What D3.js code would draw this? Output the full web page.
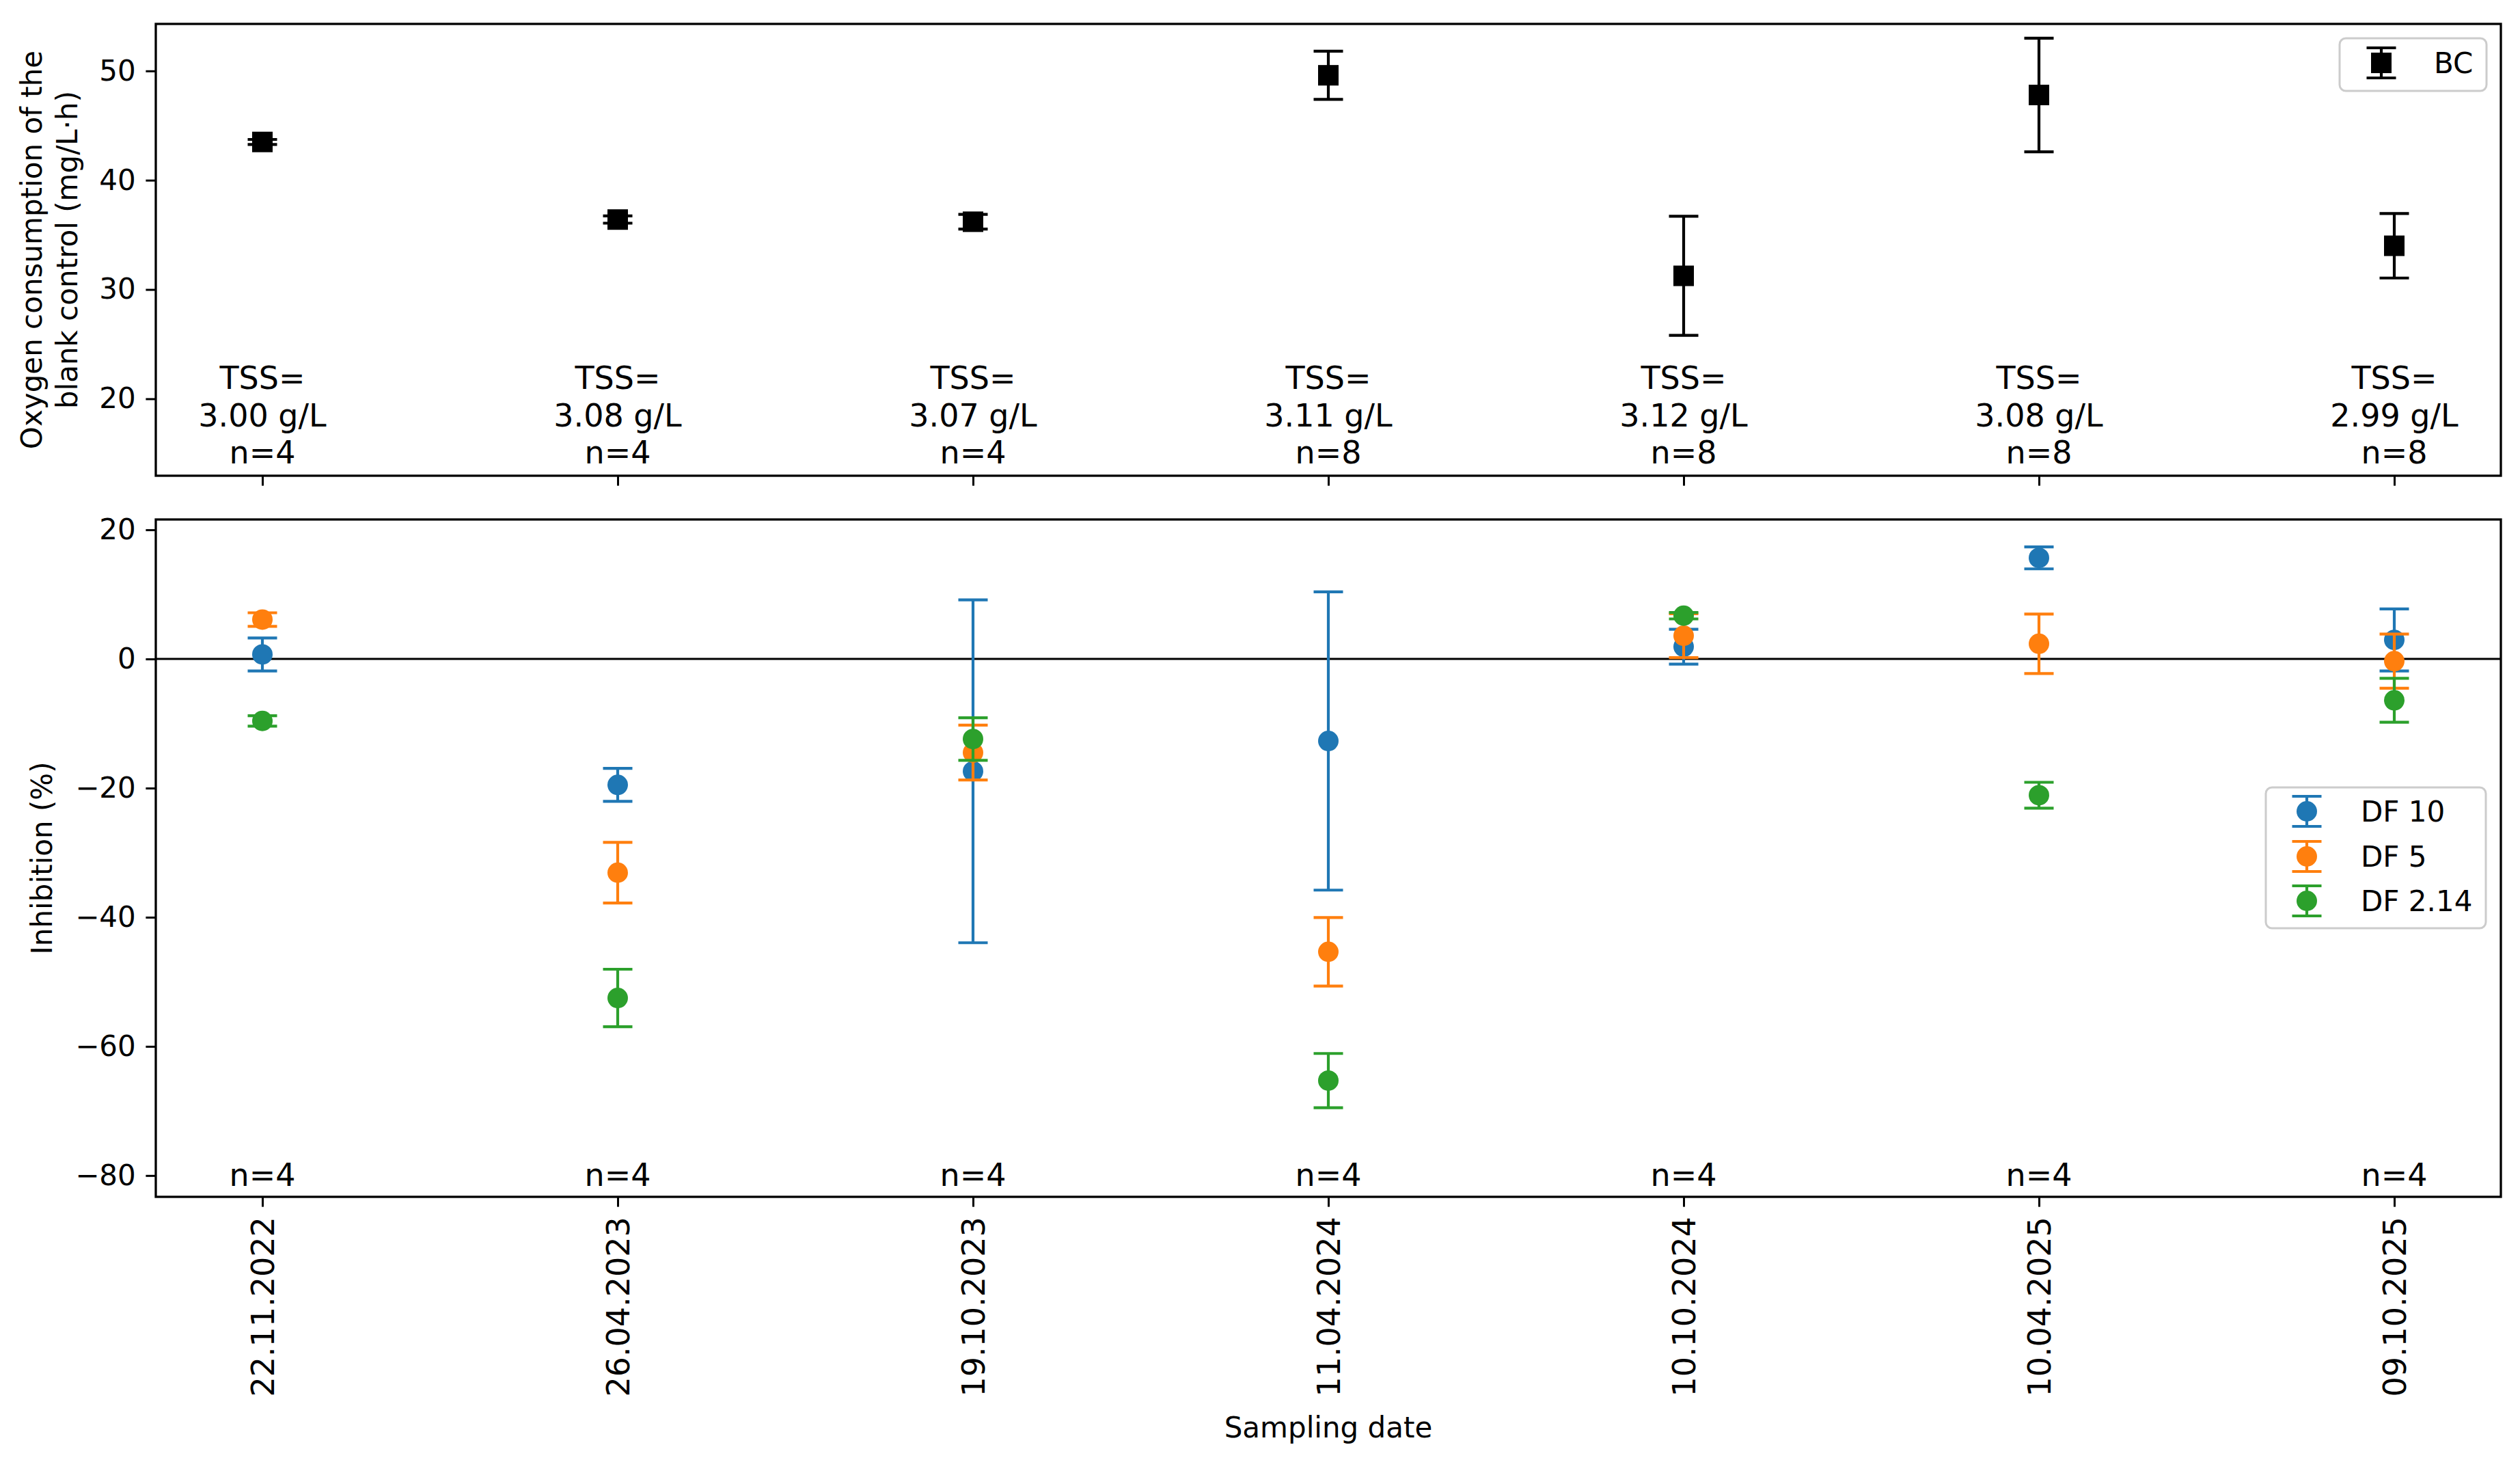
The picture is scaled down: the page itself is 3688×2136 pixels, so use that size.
<!DOCTYPE html>
<html>
<head>
<meta charset="utf-8">
<script src="https://cdn.jsdelivr.net/npm/d3@7"></script>
<style>
  html, body { margin: 0; padding: 0; background: #fff; }
  svg { display: block; font-family: "DejaVu Sans", sans-serif; }
</style>
</head>
<body>
<svg id="chart" width="3688" height="2136"></svg>
<script>
// ---------------- data ----------------
const dates = ["22.11.2022", "26.04.2023", "19.10.2023", "11.04.2024", "10.10.2024", "10.04.2025", "09.10.2025"];
const tssValues = ["3.00", "3.08", "3.07", "3.11", "3.12", "3.08", "2.99"];
const nTop = [4, 4, 4, 8, 8, 8, 8];
const nBottom = [4, 4, 4, 4, 4, 4, 4];

const bcMean = [43.5, 36.4, 36.2, 49.6, 31.25, 47.8, 34.0];
const bcErr  = [0.23, 0.33, 0.67, 2.2, 5.45, 5.2, 2.95];

const df10Mean = [0.7, -19.5, -17.4, -12.7, 1.9, 15.65, 2.95];
const df10Err  = [2.55, 2.55, 26.55, 23.1, 2.7, 1.7, 4.8];
const df5Mean  = [6.1, -33.1, -14.5, -45.35, 3.6, 2.35, -0.34];
const df5Err   = [1.05, 4.7, 4.25, 5.3, 3.4, 4.6, 4.2];
const df214Mean = [-9.6, -52.5, -12.4, -65.3, 6.7, -21.1, -6.4];
const df214Err  = [0.8, 4.45, 3.3, 4.2, 0.5, 2.0, 3.4];

const seriesNames = ["DF 10", "DF 5", "DF 2.14"];
const seriesColors = ["#1f77b4", "#ff7f0e", "#2ca02c"];

const topTicks = [20, 30, 40, 50];
const bottomTicks = [-80, -60, -40, -20, 0, 20];

// ---------------- layout ----------------
const L = 228, R = 3660;
const topPanel = { t: 35, b: 696 };
const botPanel = { t: 760, b: 1751 };
const tickLen = 14.6, tickPad = 14.6;
const tickFont = 42, xTickFont = 46, annFont = 46, labelFont = 42, legendFont = 42;
const capHalf = 21.5, errW = 4.2, markerR = 15, sq = 30;

const svg = d3.select("#chart");
svg.append("rect").attr("width", 3688).attr("height", 2136).attr("fill", "#fff");

const idx = d3.range(dates.length);
const x = d3.scaleLinear().domain([-0.3, 6.3]).range([L, R]);
const yTop = d3.scaleLinear().domain([12.96, 54.3]).range([topPanel.b, topPanel.t]);
const yBot = d3.scaleLinear().domain([-83.3, 21.6]).range([botPanel.b, botPanel.t]);

function styleAxis(g, size) {
  g.select(".domain").remove();
  g.selectAll(".tick line").attr("stroke", "#000").attr("stroke-width", 3);
  g.selectAll(".tick text").attr("font-size", size).attr("fill", "#000")
    .attr("font-family", "DejaVu Sans, sans-serif");
}

// ---------- top panel ----------
const gTopY = svg.append("g").attr("transform", `translate(${L},0)`)
  .call(d3.axisLeft(yTop).tickValues(topTicks).tickSize(tickLen).tickPadding(tickPad).tickFormat(d3.format("d")));
styleAxis(gTopY, tickFont);
const gTopX = svg.append("g").attr("transform", `translate(0,${topPanel.b})`)
  .call(d3.axisBottom(x).tickValues(idx).tickSize(tickLen).tickFormat(""));
styleAxis(gTopX, xTickFont);

// error bars BC
const bc = svg.append("g");
idx.forEach(i => {
  const cx = x(i), y0 = yTop(bcMean[i] - bcErr[i]), y1 = yTop(bcMean[i] + bcErr[i]);
  bc.append("line").attr("x1", cx).attr("x2", cx).attr("y1", y0).attr("y2", y1)
    .attr("stroke", "#000").attr("stroke-width", errW);
  [y0, y1].forEach(yy => bc.append("line").attr("x1", cx - capHalf).attr("x2", cx + capHalf)
    .attr("y1", yy).attr("y2", yy).attr("stroke", "#000").attr("stroke-width", errW));
  bc.append("rect").attr("x", cx - sq / 2).attr("y", yTop(bcMean[i]) - sq / 2)
    .attr("width", sq).attr("height", sq).attr("fill", "#000");
});

// TSS annotations
const ann = svg.append("g").attr("font-size", annFont).attr("text-anchor", "middle").attr("fill", "#000");
idx.forEach(i => {
  ann.append("text").attr("x", x(i)).attr("y", 569).text("TSS=");
  ann.append("text").attr("x", x(i)).attr("y", 624).text(`${tssValues[i]} g/L`);
  ann.append("text").attr("x", x(i)).attr("y", 678).text(`n=${nTop[i]}`);
});

svg.append("rect").attr("x", L).attr("y", topPanel.t).attr("width", R - L).attr("height", topPanel.b - topPanel.t)
  .attr("fill", "none").attr("stroke", "#000").attr("stroke-width", 3.3);

// BC legend
const lg1 = svg.append("g");
lg1.append("rect").attr("x", 3424).attr("y", 56).attr("width", 215).attr("height", 77).attr("rx", 9)
  .attr("fill", "#fff").attr("fill-opacity", 0.8).attr("stroke", "#cccccc").attr("stroke-width", 3);
lg1.append("line").attr("x1", 3485).attr("x2", 3485).attr("y1", 70).attr("y2", 114).attr("stroke", "#000").attr("stroke-width", errW);
[70, 114].forEach(yy => lg1.append("line").attr("x1", 3485 - capHalf).attr("x2", 3485 + capHalf)
  .attr("y1", yy).attr("y2", yy).attr("stroke", "#000").attr("stroke-width", errW));
lg1.append("rect").attr("x", 3485 - sq / 2).attr("y", 92 - sq / 2).attr("width", sq).attr("height", sq).attr("fill", "#000");
lg1.append("text").attr("x", 3562).attr("y", 92).attr("dy", "0.36em").attr("font-size", legendFont).text("BC");

// top y label
const tyl = svg.append("g").attr("font-size", labelFont).attr("text-anchor", "middle");
tyl.append("text").attr("transform", `translate(61,${(topPanel.t + topPanel.b) / 2}) rotate(-90)`).text("Oxygen consumption of the");
tyl.append("text").attr("transform", `translate(113,${(topPanel.t + topPanel.b) / 2}) rotate(-90)`).text("blank control (mg/L·h)");

// ---------- bottom panel ----------
const gBotY = svg.append("g").attr("transform", `translate(${L},0)`)
  .call(d3.axisLeft(yBot).tickValues(bottomTicks).tickSize(tickLen).tickPadding(tickPad).tickFormat(d3.format("d")));
styleAxis(gBotY, tickFont);
const gBotX = svg.append("g").attr("transform", `translate(0,${botPanel.b})`)
  .call(d3.axisBottom(x).tickValues(idx).tickSize(tickLen).tickPadding(tickPad).tickFormat(i => dates[i]));
styleAxis(gBotX, xTickFont);
gBotX.selectAll(".tick text")
  .attr("transform", "rotate(-90)")
  .attr("text-anchor", "end")
  .attr("x", -(tickLen + tickPad))
  .attr("y", 0)
  .attr("dy", "0.36em");

// zero line
svg.append("line").attr("x1", L).attr("x2", R).attr("y1", yBot(0)).attr("y2", yBot(0))
  .attr("stroke", "#000").attr("stroke-width", 3);

const seriesMeans = [df10Mean, df5Mean, df214Mean];
const seriesErrs = [df10Err, df5Err, df214Err];
seriesMeans.forEach((means, s) => {
  const g = svg.append("g");
  const col = seriesColors[s];
  idx.forEach(i => {
    const cx = x(i), y0 = yBot(means[i] - seriesErrs[s][i]), y1 = yBot(means[i] + seriesErrs[s][i]);
    g.append("line").attr("x1", cx).attr("x2", cx).attr("y1", y0).attr("y2", y1)
      .attr("stroke", col).attr("stroke-width", errW);
    [y0, y1].forEach(yy => g.append("line").attr("x1", cx - capHalf).attr("x2", cx + capHalf)
      .attr("y1", yy).attr("y2", yy).attr("stroke", col).attr("stroke-width", errW));
    g.append("circle").attr("cx", cx).attr("cy", yBot(means[i])).attr("r", markerR).attr("fill", col);
  });
});

// n annotations bottom
const ann2 = svg.append("g").attr("font-size", annFont).attr("text-anchor", "middle");
idx.forEach(i => ann2.append("text").attr("x", x(i)).attr("y", 1735).text(`n=${nBottom[i]}`));

svg.append("rect").attr("x", L).attr("y", botPanel.t).attr("width", R - L).attr("height", botPanel.b - botPanel.t)
  .attr("fill", "none").attr("stroke", "#000").attr("stroke-width", 3.3);

// DF legend
const lg2 = svg.append("g");
lg2.append("rect").attr("x", 3316).attr("y", 1152).attr("width", 322).attr("height", 206).attr("rx", 9)
  .attr("fill", "#fff").attr("fill-opacity", 0.8).attr("stroke", "#cccccc").attr("stroke-width", 3);
const rowsY = [1187, 1253, 1318];
seriesNames.forEach((name, s) => {
  const cy = rowsY[s], cx = 3376, col = seriesColors[s];
  lg2.append("line").attr("x1", cx).attr("x2", cx).attr("y1", cy - 22).attr("y2", cy + 22).attr("stroke", col).attr("stroke-width", errW);
  [cy - 22, cy + 22].forEach(yy => lg2.append("line").attr("x1", cx - capHalf).attr("x2", cx + capHalf)
    .attr("y1", yy).attr("y2", yy).attr("stroke", col).attr("stroke-width", errW));
  lg2.append("circle").attr("cx", cx).attr("cy", cy).attr("r", markerR).attr("fill", col);
  lg2.append("text").attr("x", 3455).attr("y", cy).attr("dy", "0.36em").attr("font-size", legendFont).text(name);
});

// bottom y label
svg.append("text").attr("font-size", labelFont).attr("text-anchor", "middle")
  .attr("transform", `translate(76,${(botPanel.t + botPanel.b) / 2}) rotate(-90)`).text("Inhibition (%)");

// x label
svg.append("text").attr("font-size", labelFont).attr("text-anchor", "middle")
  .attr("x", (L + R) / 2).attr("y", 2103).text("Sampling date");
</script>
</body>
</html>
